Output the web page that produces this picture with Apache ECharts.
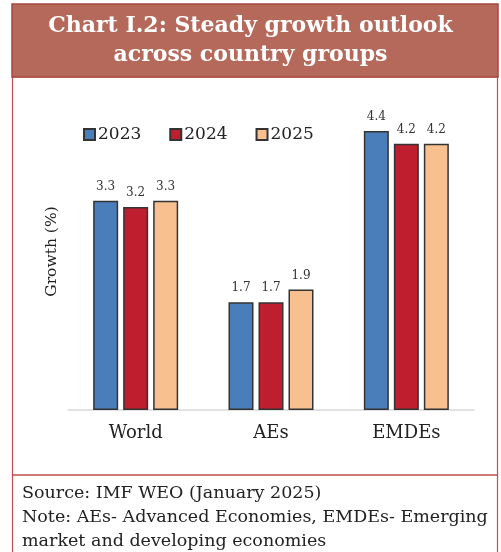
<!DOCTYPE html>
<html><head><meta charset="utf-8">
<script src="https://cdn.jsdelivr.net/npm/echarts@6/dist/echarts.min.js"></script>
<style>html,body{margin:0;padding:0;background:#fff}#c{width:501px;height:552px}</style>
</head><body><div id="c"></div>
<script>
const categories = ['World', 'AEs', 'EMDEs'];
const years = ['2023', '2024', '2025'];
const v2023 = [3.3, 1.7, 4.4];
const v2024 = [3.2, 1.7, 4.2];
const v2025 = [3.3, 1.9, 4.2];
const titleLines = ['Chart I.2: Steady growth outlook', 'across country groups'];
const sourceLines = ['Source: IMF WEO (January 2025)', 'Note: AEs- Advanced Economies, EMDEs- Emerging', 'market and developing economies'];

const FONT = 'DejaVu Serif';
const colors = ['#4a7ebb', '#be1e2d', '#f9c08f'];
const seriesVals = [v2023, v2024, v2025];

const chart = echarts.init(document.getElementById('c'), null, {renderer: 'canvas'});
chart.setOption({
  animation: false,
  textStyle: {fontFamily: FONT},
  grid: {left: 68, right: 27, top: 93, bottom: 142},
  legend: {
    top: 121, left: 78, itemWidth: 11, itemHeight: 11, itemGap: 28,
    icon: 'rect',
    textStyle: {fontFamily: FONT, fontSize: 17, color: '#222', padding: [0, 0, 0, -2]},
    data: years
  },
  xAxis: {
    type: 'category', data: categories,
    axisLine: {lineStyle: {color: '#d9d9d9', width: 1.5}},
    axisTick: {show: false},
    axisLabel: {fontFamily: FONT, fontSize: 18, color: '#222', margin: 14}
  },
  yAxis: {
    type: 'value', min: 0, max: 5, show: true,
    name: 'Growth (%)', nameLocation: 'middle', nameGap: 8, nameRotate: 90,
    nameTextStyle: {fontFamily: FONT, fontSize: 15.5, color: '#222'},
    axisLine: {show: false}, axisTick: {show: false}, axisLabel: {show: false},
    splitLine: {show: false}
  },
  series: years.map((y, i) => ({
    name: y, type: 'bar', data: seriesVals[i], barWidth: 25, barGap: '20%',
    itemStyle: {color: colors[i], borderColor: '#333', borderWidth: 1.5},
    label: {show: true, position: 'top', distance: 8, fontFamily: FONT, fontSize: 12, color: '#333',
      formatter: p => p.value.toFixed(1)}
  })),
  graphic: [
    {type: 'rect', shape: {x: 12, y: 4, width: 486, height: 73}, style: {fill: '#b5695a', stroke: '#a9473f', lineWidth: 1.5}, z: 0},
    {type: 'text', left: 'center', top: 12, style: {text: titleLines.join('\n'), fill: '#fff', font: 'bold 22px "DejaVu Serif"', textAlign: 'center', lineHeight: 29}},
    {type: 'rect', shape: {x: 12.5, y: 77, width: 485, height: 398}, style: {fill: 'none', stroke: '#c0504d', lineWidth: 1.2}, z: -1},
    {type: 'rect', shape: {x: 12.5, y: 475, width: 485, height: 80}, style: {fill: 'none', stroke: '#c0504d', lineWidth: 1.2}, z: -1},
    {type: 'text', left: 22, top: 481, style: {text: sourceLines.join('\n'), fill: '#222', font: '17.5px "DejaVu Serif"', lineHeight: 24}}
  ]
});
</script></body></html>
